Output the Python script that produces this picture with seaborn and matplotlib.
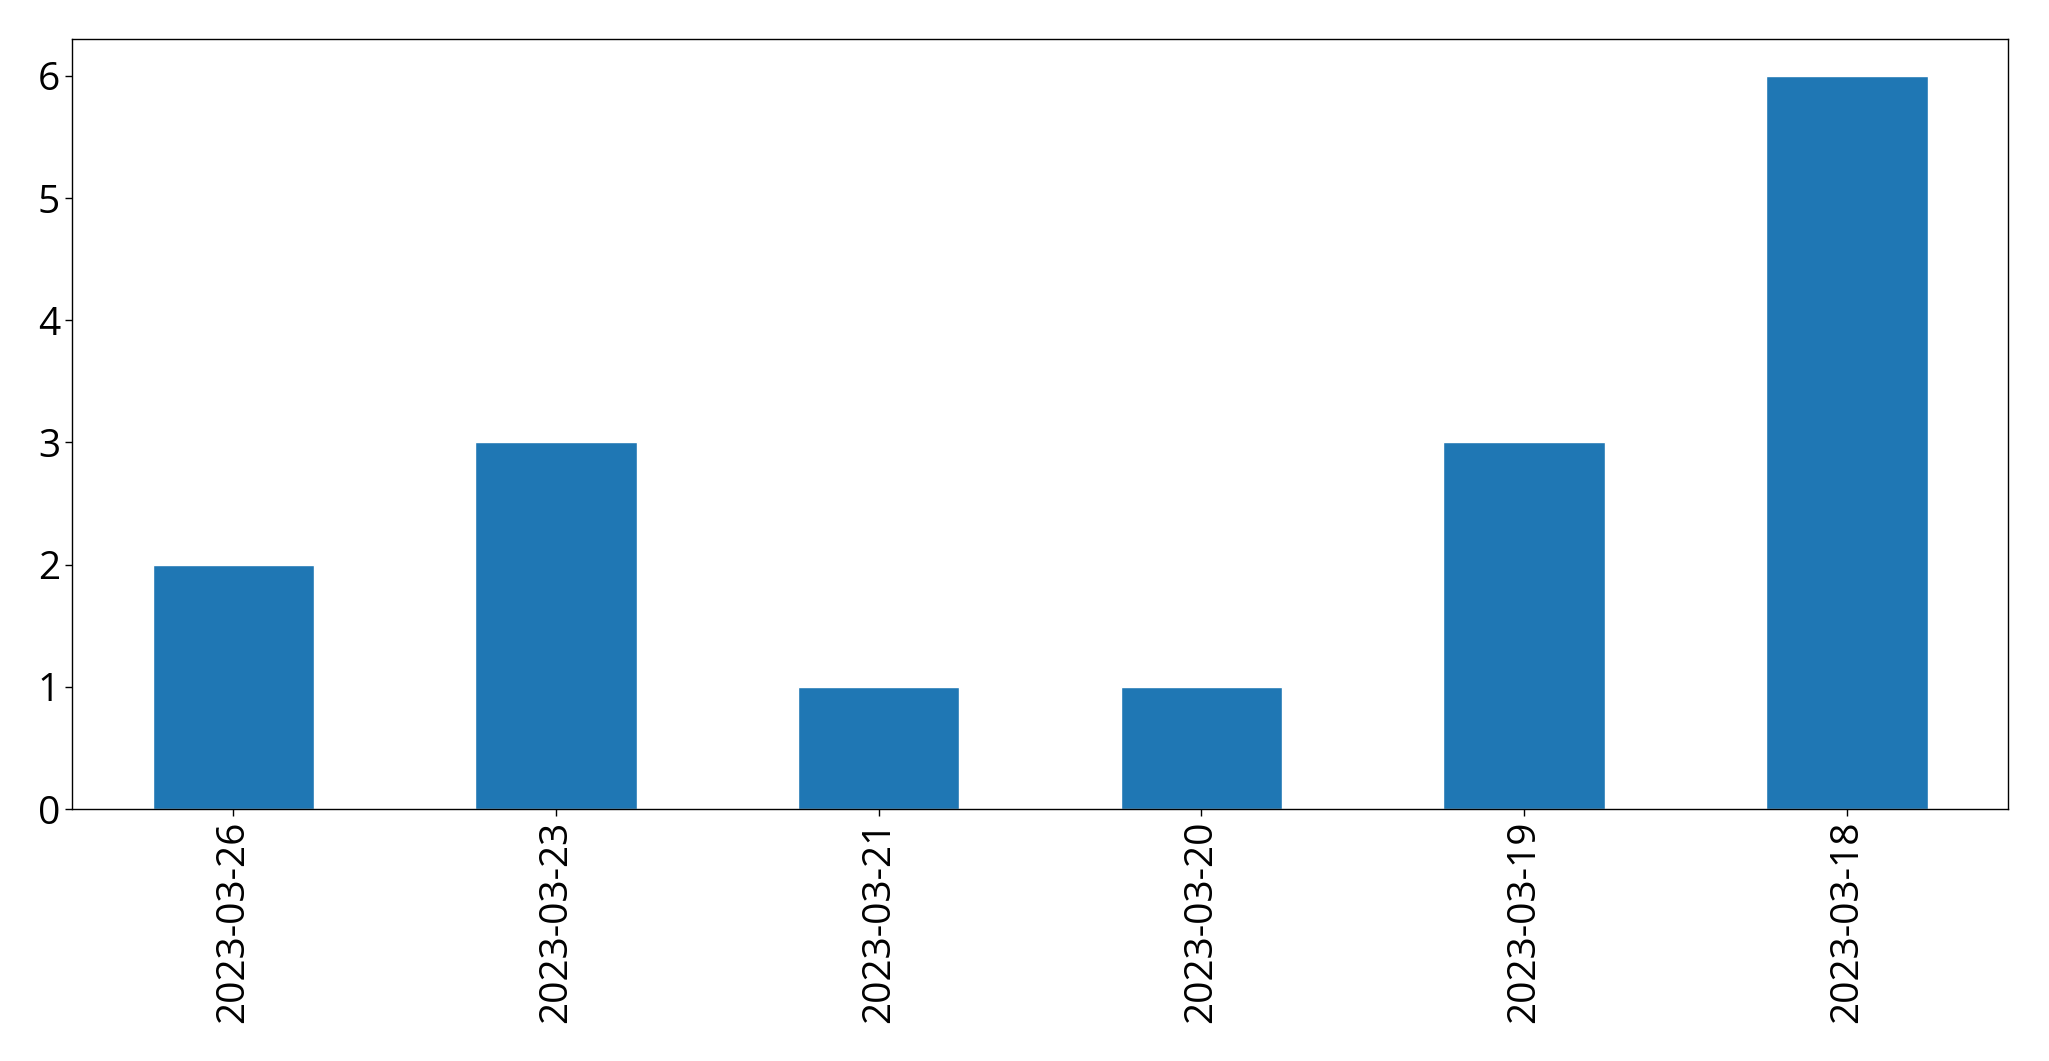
import pandas as pd
import seaborn as sns
from matplotlib import pyplot as plt

dates = ["2023-03-26", "2023-03-23", "2023-03-21", "2023-03-20", "2023-03-19", "2023-03-18"]
counts = [2, 3, 1, 1, 3, 6]

data = pd.DataFrame({"date": dates, "count": counts})

sns.set_style("white")
plt.rcParams['font.family'] = ['Open Sans', 'DejaVu Sans']

fig = plt.figure(figsize=(20.49, 10.61), dpi=100)
ax = fig.add_axes([0.0351, 0.2375, 0.945, 0.7255])

sns.barplot(data=data, x="date", y="count", order=dates, color="#1f77b4",
            saturation=1, width=0.5, ax=ax)

ax.set_xlim(-0.5, 5.5)
ax.set_ylim(0, 6.3)
ax.set_xlabel("")
ax.set_ylabel("")
ax.tick_params(axis='x', labelrotation=90, labelsize=28, length=5, width=1,
               bottom=True, colors="black")
ax.tick_params(axis='y', labelsize=28, length=5, width=1, left=True, colors="black")
for s in ax.spines.values():
    s.set_color("black")
    s.set_linewidth(1)

fig.savefig("out.png", dpi=100)
